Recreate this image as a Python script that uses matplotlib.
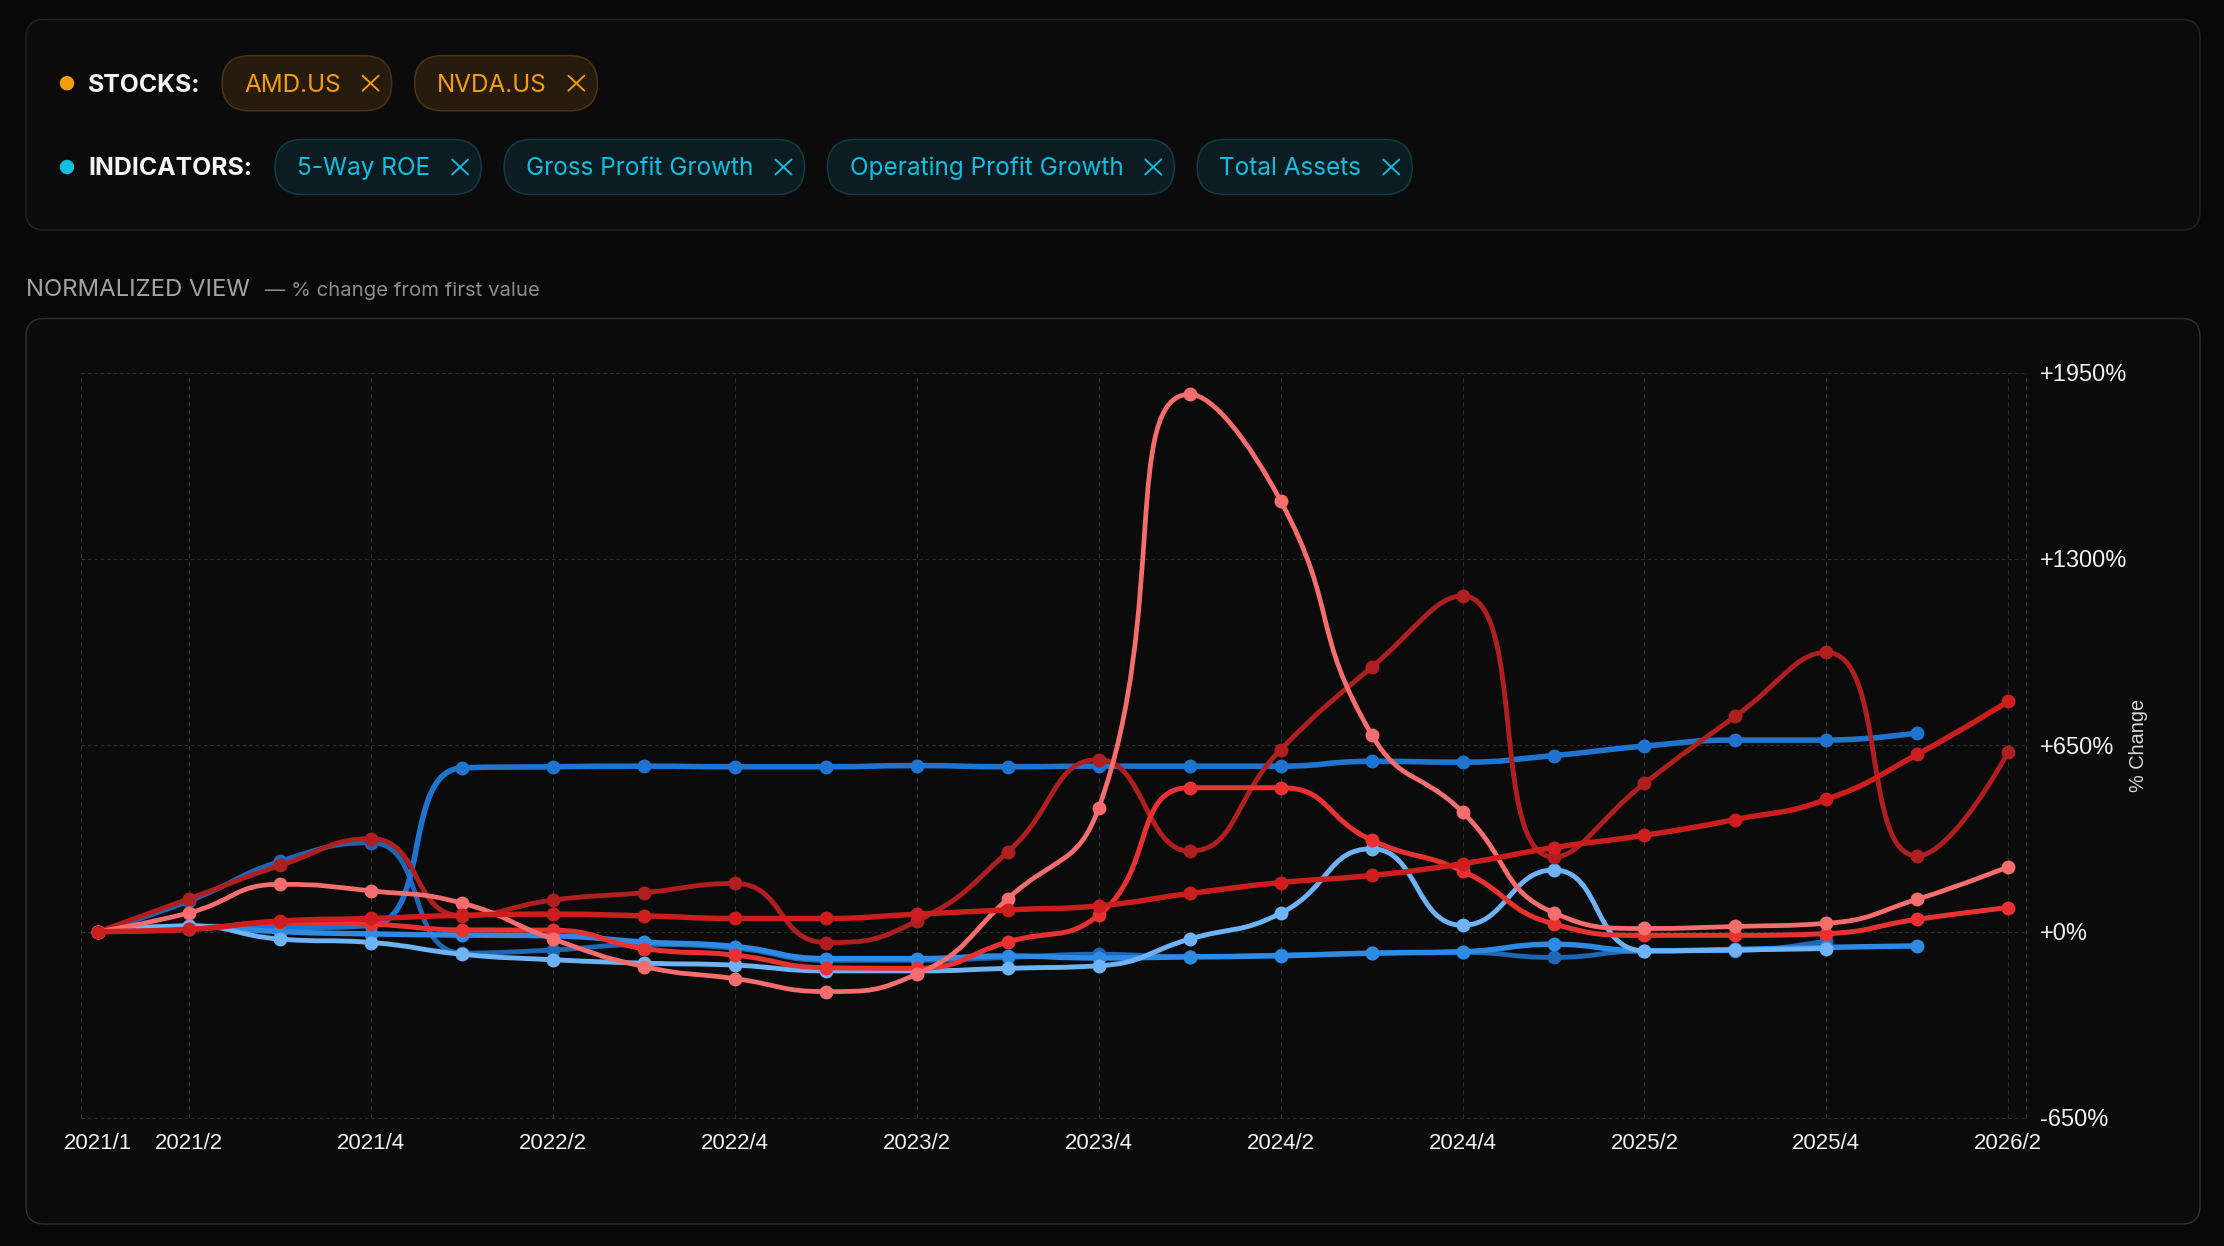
import matplotlib
matplotlib.use("Agg")
import matplotlib.pyplot as plt
import numpy as np
from matplotlib.lines import Line2D
from matplotlib.patches import Circle, FancyBboxPatch, PathPatch
from matplotlib.path import Path

# ── Data ──────────────────────────────────────────────────────────────────────

quarters = ["2021/1", "2021/2", "2021/3", "2021/4", "2022/1", "2022/2", "2022/3",
            "2022/4", "2023/1", "2023/2", "2023/3", "2023/4", "2024/1", "2024/2",
            "2024/3", "2024/4", "2025/1", "2025/2", "2025/3", "2025/4", "2026/1",
            "2026/2"]
tick_idx = [0, 1, 3, 5, 7, 9, 11, 13, 15, 17, 19, 21]

y_ticks = [-650, 0, 650, 1300, 1950]
y_labels = ["-650%", "+0%", "+650%", "+1300%", "+1950%"]

stocks = ["AMD.US", "NVDA.US"]
indicators = ["5-Way ROE", "Gross Profit Growth", "Operating Profit Growth", "Total Assets"]

# % change from first value, one list per stock/indicator (shorter = missing tail)
amd_roe = [0, 107, 246, 310, -75, -64, -45, -58, -100, -100, -90, -79, -88, -82,
           -76, -72, -90, -67, -66, -32]
amd_ta = [0, 18, 15, 22, 571, 575, 577, 575, 575, 579, 575, 577, 577, 577, 594,
          591, 614, 647, 668, 668, 693]
amd_gpg = [0, 18, 0, -8, -12, -15, -36, -52, -94, -94, -85, -92, -88, -84, -75,
           -70, -44, -67, -62, -55, -50]
amd_opg = [0, 20, -26, -38, -79, -98, -110, -117, -137, -137, -128, -119, -26, 64,
           289, 22, 215, -67, -64, -59]
nvda_roe = [0, 115, 231, 324, 55, 110, 136, 168, -38, 37, 278, 600, 281, 635, 922,
            1171, 260, 517, 751, 974, 264, 626]
nvda_opg = [0, 8, 32, 26, 6, 5, -59, -82, -126, -128, -36, 58, 502, 502, 319, 211,
            27, -13, -13, -7, 43, 84]
nvda_gpg = [0, 66, 165, 142, 99, -26, -122, -164, -209, -148, 115, 432, 1874, 1502,
            687, 417, 66, 11, 18, 29, 113, 226]
nvda_ta = [0, 8, 37, 46, 57, 61, 55, 46, 46, 61, 76, 90, 133, 171, 196, 237, 293,
           336, 391, 461, 618, 803]

# ── Styling ───────────────────────────────────────────────────────────────────

W, H, DPI = 2224, 1246, 100
BG, PANEL = "#080808", "#0b0b0b"
GRID = "#2c2c2c"
ORANGE, CYAN = "#f59e0b", "#10bfe0"
UI_FONT = ["Inter", "DejaVu Sans"]
AX_FONT = ["Liberation Sans", "DejaVu Sans"]

# drawing order: bottom -> top
series = [
    (amd_roe, "#1e67b4", 3.5),
    (amd_ta, "#1f74d0", 4.0),
    (amd_gpg, "#2d8be6", 3.9),
    (amd_opg, "#6db3f5", 3.5),
    (nvda_roe, "#b01f1f", 3.5),
    (nvda_opg, "#e83232", 3.6),
    (nvda_gpg, "#f66d6d", 3.4),
    (nvda_ta, "#cd1d1d", 3.9),
]

# axes box in figure pixels (top-left origin)
AX_L, AX_R, AX_T, AX_B = 81.4, 2025.5, 372.5, 1118.0
XLIM = (-0.188, 21.19)
YLIM = (-650, 1950)
SX = (AX_R - AX_L) / (XLIM[1] - XLIM[0])     # px per quarter
SY = (AX_B - AX_T) / (YLIM[1] - YLIM[0])     # px per percent


def echarts_smooth(xs, ys, smooth=0.5):
    """Cubic bezier path like echarts' smooth line, computed in pixel space."""
    pts = [(x * SX, y * SY) for x, y in zip(xs, ys)]
    verts, codes = [pts[0]], [Path.MOVETO]
    cp0 = pts[0]
    n = len(pts)
    for k in range(1, n):
        x, y = pts[k]
        px, py = pts[k - 1]
        if k == n - 1:
            cp1, ncp = (x, y), None
        else:
            nx, ny = pts[k + 1]
            vx, vy = nx - px, ny - py
            lp = np.hypot(x - px, y - py)
            ln = np.hypot(nx - x, ny - y)
            r = ln / (ln + lp)
            ncx = x + vx * smooth * r
            ncy = y + vy * smooth * r
            ncx = max(min(ncx, max(nx, x)), min(nx, x))
            ncy = max(min(ncy, max(ny, y)), min(ny, y))
            vx, vy = ncx - x, ncy - y
            c1x = x - vx * lp / ln
            c1y = y - vy * lp / ln
            c1x = max(min(c1x, max(px, x)), min(px, x))
            c1y = max(min(c1y, max(py, y)), min(py, y))
            vx, vy = x - c1x, y - c1y
            ncp = (x + vx * ln / lp, y + vy * ln / lp)
            cp1 = (c1x, c1y)
        verts += [cp0, cp1, (x, y)]
        codes += [Path.CURVE4] * 3
        cp0 = ncp
    verts = [(vx_ / SX, vy_ / SY) for vx_, vy_ in verts]
    return Path(verts, codes)


fig = plt.figure(figsize=(W / DPI, H / DPI), dpi=DPI, facecolor=BG)

# background layer in pixel coordinates (y down)
bg = fig.add_axes([0, 0, 1, 1])
bg.set_xlim(0, W)
bg.set_ylim(H, 0)
bg.axis("off")
bg.set_zorder(0)


def rbox(x0, y0, x1, y1, r, fc, ec, lw):
    bg.add_patch(FancyBboxPatch((x0, y0), x1 - x0, y1 - y0,
                                boxstyle=f"round,pad=0,rounding_size={r}",
                                fc=fc, ec=ec, lw=lw))


rbox(26, 19.5, 2200, 230, 18, PANEL, "#222222", 1.1)
rbox(26, 318.5, 2200, 1224, 18, PANEL, "#2e2e2e", 1.1)

renderer = fig.canvas.get_renderer()


def xmark(cx, cy, color):
    for dy in (-7.5, 7.5):
        bg.add_line(Line2D([cx - 8, cx + 8], [cy - dy, cy + dy], color=color,
                           lw=1.35, solid_capstyle="round"))


def chip_row(dot_color, title, labels, base, x_first, fg, fill, edge, title_size):
    yc = base - 8.3
    bg.add_patch(Circle((67, yc), 6.5, color=dot_color))
    bg.text(88, base, title, color="#f5f5f5", fontsize=title_size, fontweight="bold",
            family=UI_FONT, va="baseline", ha="left")
    x = x_first
    for lab in labels:
        t = bg.text(x + 22, base, lab, color=fg, fontsize=17.5, family=UI_FONT,
                    va="baseline", ha="left", zorder=3)
        tw = t.get_window_extent(renderer).width
        cx = x + 22 + tw + 22 + 8
        x1 = cx + 8 + 13
        rbox(x, yc - 27.5, x1, yc + 27.5, 27.5, fill, edge, 1.1)
        xmark(cx, yc, fg)
        x = x1 + 23


chip_row(ORANGE, "STOCKS:", stocks, 91.5, 222, ORANGE, "#271b0d", "#4d3214", 17.9)
chip_row(CYAN, "INDICATORS:", indicators, 175.3, 275, CYAN, "#0b1d23", "#123a45", 17.9)

bg.text(26, 296, "NORMALIZED VIEW", color="#a3a3a3", fontsize=17.2, family=UI_FONT,
        va="baseline", ha="left")
bg.text(265, 296, "— % change from first value", color="#8c8c8c", fontsize=14.6,
        family=UI_FONT, va="baseline", ha="left")

bg.text(2139, 745, "% Change", color="#d8d8d8", fontsize=14.3, family=AX_FONT,
        rotation=90, ha="center", va="center")

# ── Chart ─────────────────────────────────────────────────────────────────────

ax = fig.add_axes([AX_L / W, 1 - AX_B / H, (AX_R - AX_L) / W, (AX_B - AX_T) / H])
ax.set_zorder(2)
ax.patch.set_visible(False)
ax.set_xlim(*XLIM)
ax.set_ylim(*YLIM)
for s in ax.spines.values():
    s.set_visible(False)

for y in y_ticks:
    ax.axhline(y, color=GRID, lw=0.8, dashes=(3.2, 2.6), zorder=0.5, clip_on=False)
for x in tick_idx[1:] + list(XLIM):
    ax.axvline(x, color=GRID, lw=0.8, dashes=(4, 3.2), zorder=0.5, clip_on=False)

ax.set_yticks(y_ticks)
ax.set_yticklabels(y_labels)
ax.yaxis.tick_right()
ax.tick_params(axis="y", length=0, pad=10.5, labelsize=17, labelcolor="#f0f0f0")
ax.set_xticks(tick_idx)
ax.set_xticklabels([quarters[i] for i in tick_idx])
ax.tick_params(axis="x", length=0, pad=11, labelsize=16, labelcolor="#f0f0f0")
for lab in ax.get_xticklabels() + ax.get_yticklabels():
    lab.set_family(AX_FONT)

for k, (vals, color, lw) in enumerate(series):
    v = np.array(vals, dtype=float)
    i = np.arange(len(v))
    ax.add_patch(PathPatch(echarts_smooth(i, v), fill=False, ec=color, lw=lw,
                           capstyle="round", joinstyle="round", zorder=3 + 2 * k))
    ax.plot(i, v, "o", ms=10, color=color, mew=0, zorder=4 + 2 * k, clip_on=False)

fig.savefig("out.png", dpi=DPI, facecolor=BG)
